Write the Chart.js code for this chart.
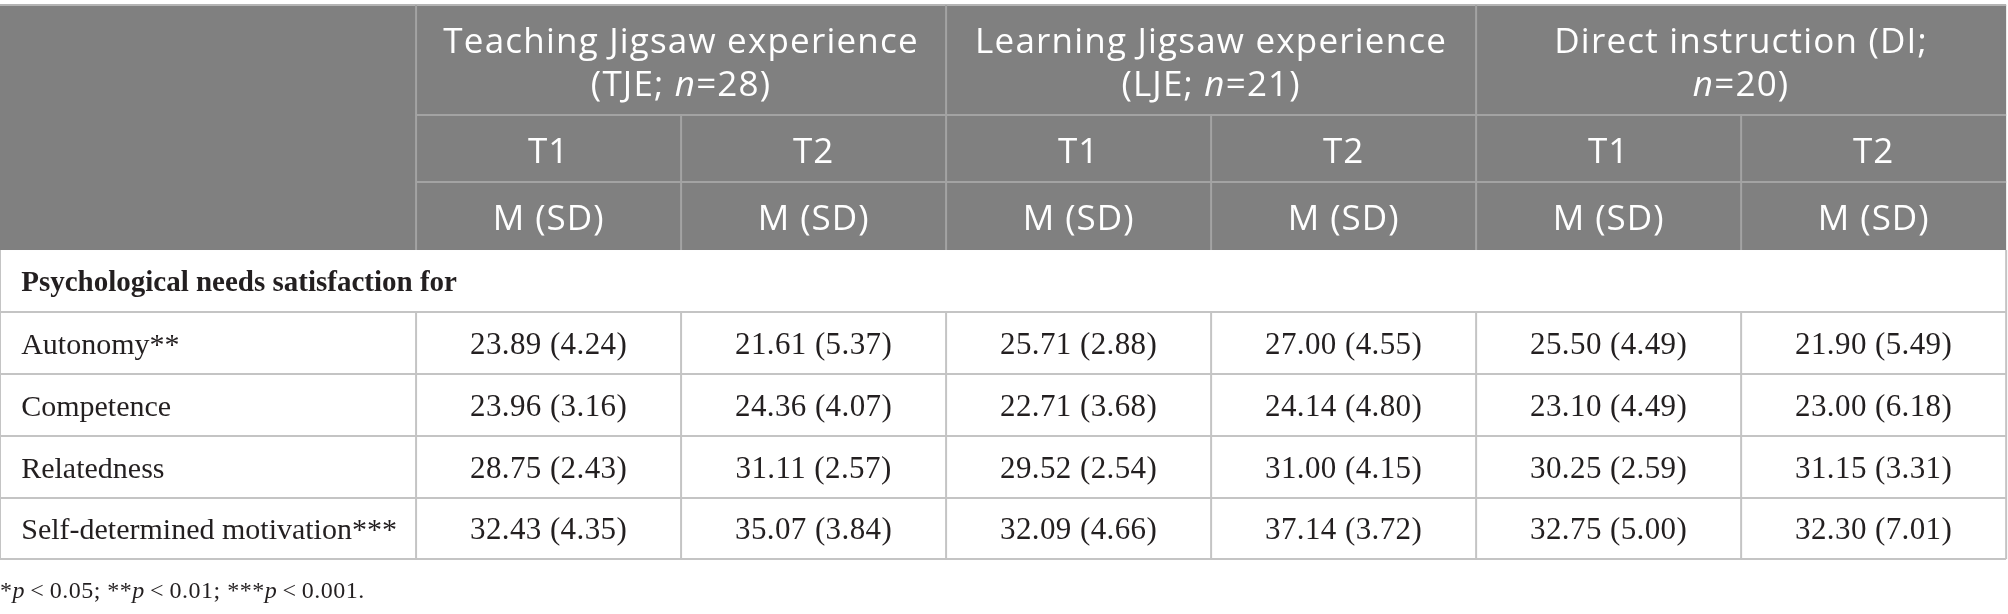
<!DOCTYPE html>
<html>
<head>
<meta charset="utf-8">
<script src="https://cdn.jsdelivr.net/npm/chart.js@4.4.1/dist/chart.umd.min.js"></script>
<style>
    html, body { margin: 0; padding: 0; background: #ffffff; }
    canvas { display: block; }
</style>
</head>
<body>
<canvas id="table" width="2008" height="614"></canvas>
<script>
// table content (_x_ marks italic text)
const groupLines = [
    ['Teaching Jigsaw experience', '(TJE; _n_=28)'],
    ['Learning Jigsaw experience', '(LJE; _n_=21)'],
    ['Direct instruction (DI;', '_n_=20)']
]
const timeLabels = ['T1', 'T2', 'T1', 'T2', 'T1', 'T2']
const statLabel = 'M (SD)'
const sectionLabel = 'Psychological needs satisfaction for'
const rowLabels = ['Autonomy**', 'Competence', 'Relatedness', 'Self-determined motivation***']

// means and SDs, one array per row, columns TJE T1, TJE T2, LJE T1, LJE T2, DI T1, DI T2
const autonomyM = [23.89, 21.61, 25.71, 27.00, 25.50, 21.90]
const autonomySD = [4.24, 5.37, 2.88, 4.55, 4.49, 5.49]
const competenceM = [23.96, 24.36, 22.71, 24.14, 23.10, 23.00]
const competenceSD = [3.16, 4.07, 3.68, 4.80, 4.49, 6.18]
const relatednessM = [28.75, 31.11, 29.52, 31.00, 30.25, 31.15]
const relatednessSD = [2.43, 2.57, 2.54, 4.15, 2.59, 3.31]
const motivationM = [32.43, 35.07, 32.09, 37.14, 32.75, 32.30]
const motivationSD = [4.35, 3.84, 4.66, 3.72, 5.00, 7.01]

const footnote = ['*_p_\u2009<\u20090.05; **_p_\u2009<\u20090.01; ***_p_\u2009<\u20090.001.']

// layout in scale units (one data column = 1 on x, one body row = 1 on y)
const labelColW = 1.570
const xMax = 7.577
const yMax = 9.823
const headerRows = [1.774, 1.081, 1.097]
const bodyRowH = 1
const lastRowH = 0.985

const meansByRow = [autonomyM, competenceM, relatednessM, motivationM]
const sdsByRow = [autonomySD, competenceSD, relatednessSD, motivationSD]

// row edges along y
const yEdges = [0]
headerRows.forEach(h => yEdges.push(yEdges[yEdges.length - 1] + h))
yEdges.push(yEdges[yEdges.length - 1] + bodyRowH) // section row
rowLabels.forEach((r, i) => {
    yEdges.push(yEdges[yEdges.length - 1] + (i === rowLabels.length - 1 ? lastRowH : bodyRowH))
})
const colEdges = [0, labelColW]
timeLabels.forEach(() => colEdges.push(colEdges[colEdges.length - 1] + 1))
const tableRight = colEdges[colEdges.length - 1]

// one invisible point per value cell, the plugin writes the text there
const cellPoints = []
meansByRow.forEach((row, r) => {
    row.forEach((m, c) => {
        cellPoints.push({
            x: labelColW + c + 0.5,
            y: (yEdges[4 + r] + yEdges[5 + r]) / 2,
            text: m.toFixed(2) + ' (' + sdsByRow[r][c].toFixed(2) + ')'
        })
    })
})

const headerFont = '"Open Sans", "Noto Sans", sans-serif'
const bodyFont = '"Liberation Serif", "DejaVu Serif", serif'
const headerBg = '#808080'
const headerLine = '#a3a3a3'
const bodyLine = '#c4c4c4'
const bodyText = '#231f20'

function segments(str) {
    return str.split('_').map((t, i) => ({ t: t, italic: i % 2 === 1 }))
}

// draws text with italic parts, alphabetic baseline at y
function drawRich(ctx, str, x, y, size, family, weight, align, spacing) {
    const segs = segments(str)
    ctx.letterSpacing = (spacing || 0) + 'px'
    let total = 0
    segs.forEach(s => {
        ctx.font = (s.italic ? 'italic ' : '') + weight + ' ' + size + 'px ' + family
        s.w = ctx.measureText(s.t).width
        total += s.w
    })
    let cx = align === 'center' ? x - total / 2 : x
    ctx.textAlign = 'left'
    ctx.textBaseline = 'alphabetic'
    segs.forEach(s => {
        ctx.font = (s.italic ? 'italic ' : '') + weight + ' ' + size + 'px ' + family
        ctx.fillText(s.t, cx, y)
        cx += s.w
    })
    ctx.letterSpacing = '0px'
}

const tablePlugin = {
    id: 'tablePlugin',
    beforeDatasetsDraw(chart) {
        const ctx = chart.ctx
        const xs = chart.scales.x
        const ys = chart.scales.y
        const px = v => xs.getPixelForValue(v)
        const py = v => ys.getPixelForValue(v)
        const line = (x1, y1, x2, y2, color) => {
            ctx.strokeStyle = color
            ctx.lineWidth = 2
            ctx.beginPath()
            ctx.moveTo(px(x1), py(y1))
            ctx.lineTo(px(x2), py(y2))
            ctx.stroke()
        }
        ctx.save()

        // header block
        ctx.fillStyle = headerBg
        ctx.fillRect(px(0), py(yEdges[0]), px(tableRight) - px(0), py(yEdges[3]) - py(yEdges[0]))
        line(0, yEdges[0], tableRight, yEdges[0], '#b4b4b4')
        line(labelColW, yEdges[0], labelColW, yEdges[3], headerLine)
        line(labelColW + 2, yEdges[0], labelColW + 2, yEdges[3], headerLine)
        line(labelColW + 4, yEdges[0], labelColW + 4, yEdges[3], headerLine)
        line(labelColW + 1, yEdges[1], labelColW + 1, yEdges[3], headerLine)
        line(labelColW + 3, yEdges[1], labelColW + 3, yEdges[3], headerLine)
        line(labelColW + 5, yEdges[1], labelColW + 5, yEdges[3], headerLine)
        line(labelColW, yEdges[1], tableRight, yEdges[1], headerLine)
        line(labelColW, yEdges[2], tableRight, yEdges[2], headerLine)

        // body grid
        const bottom = yEdges[yEdges.length - 1]
        line(0, yEdges[3], 0, bottom, bodyLine)
        line(tableRight, yEdges[3], tableRight, bottom, bodyLine)
        for (let i = 4; i < yEdges.length; i++) {
            line(0, yEdges[i], tableRight, yEdges[i], bodyLine)
        }
        for (let c = 1; c < colEdges.length - 1; c++) {
            line(colEdges[c], yEdges[4], colEdges[c], bottom, bodyLine)
        }

        // header text
        ctx.fillStyle = '#ffffff'
        const top = py(yEdges[0])
        groupLines.forEach((lines, g) => {
            const cx = px(labelColW + 2 * g + 1)
            lines.forEach((l, k) => {
                drawRich(ctx, l, cx, top + 48 + 43 * k, 35, headerFont, '400', 'center', 1.2)
            })
        })
        timeLabels.forEach((t, c) => {
            const cx = px(labelColW + c + 0.5)
            drawRich(ctx, t, cx, py(yEdges[2]) - 19, 35, headerFont, '400', 'center', 1)
            drawRich(ctx, statLabel, cx, py(yEdges[3]) - 20, 35, headerFont, '400', 'center', 1)
        })

        // section and row labels
        ctx.fillStyle = bodyText
        const padX = 0.08
        const mid = i => (py(yEdges[i]) + py(yEdges[i + 1])) / 2
        drawRich(ctx, sectionLabel, px(padX), mid(3) + 10, 29, bodyFont, 'bold', 'left', 0)
        rowLabels.forEach((r, i) => {
            drawRich(ctx, r, px(padX), mid(4 + i) + 10.5, 30, bodyFont, '400', 'left', 0)
        })

        // value cells from the dataset points
        const meta = chart.getDatasetMeta(0)
        meta.data.forEach((pt, i) => {
            drawRich(ctx, cellPoints[i].text, pt.x, pt.y + 10.5, 31, bodyFont, '400', 'center', 0.4)
        })

        // footnote
        drawRich(ctx, footnote[0], px(0), py(bottom) + 39, 24, bodyFont, '400', 'left', 0.5)
        ctx.restore()
    }
}

const ctx = document.getElementById('table').getContext('2d')
new Chart(ctx, {
    type: 'scatter',
    data: {
        datasets: [{
            label: 'cells',
            data: cellPoints,
            pointRadius: 0,
            pointHoverRadius: 0
        }]
    },
    options: {
        responsive: false,
        animation: false,
        devicePixelRatio: 1,
        layout: { padding: { top: 5, left: 0, right: 0, bottom: 0 } },
        plugins: {
            legend: { display: false },
            tooltip: { enabled: false }
        },
        scales: {
            x: { type: 'linear', min: 0, max: xMax, display: false },
            y: { type: 'linear', min: 0, max: yMax, reverse: true, display: false }
        }
    },
    plugins: [tablePlugin]
})
</script>
</body>
</html>
